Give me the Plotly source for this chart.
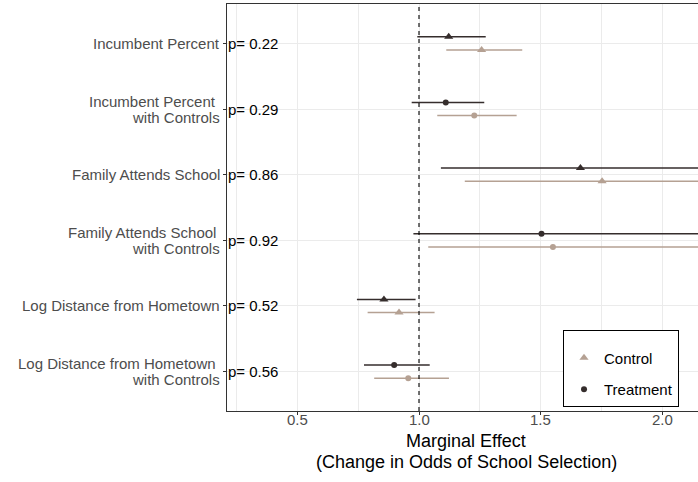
import plotly.graph_objects as go

# Models, listed top to bottom
models = [
    ["Incumbent Percent"],
    ["Incumbent Percent", "with Controls"],
    ["Family Attends School"],
    ["Family Attends School", "with Controls"],
    ["Log Distance from Hometown"],
    ["Log Distance from Hometown", "with Controls"],
]
has_controls = [False, True, False, True, False, True]
p_values = ["p= 0.22", "p= 0.29", "p= 0.86", "p= 0.92", "p= 0.52", "p= 0.56"]

# Odds-ratio estimates and 95% intervals
treat_est = [1.122, 1.110, 1.663, 1.503, 0.856, 0.898]
treat_lo = [0.993, 0.970, 1.090, 0.977, 0.745, 0.774]
treat_hi = [1.274, 1.268, 2.540, 2.310, 0.986, 1.044]

ctrl_est = [1.257, 1.227, 1.752, 1.550, 0.918, 0.956]
ctrl_lo = [1.112, 1.075, 1.188, 1.038, 0.789, 0.816]
ctrl_hi = [1.424, 1.401, 2.580, 2.310, 1.064, 1.123]

x_ticks = [0.5, 1.0, 1.5, 2.0]
x_tick_text = ["0.5", "1.0", "1.5", "2.0"]

TREAT_COLOR = "#352d2c"
CTRL_COLOR = "#b5a193"
TEXT_GREY = "#4d4d4d"
GRID = "#ebebeb"
FONT = "Liberation Sans, Arial, sans-serif"

n = len(models)
row_pos = [n - i for i in range(n)]  # top row gets the largest value
DODGE = 0.1

fig = go.Figure()


def add_group(est, lo, hi, offset, color, name, legend_symbol):
    for ctrl_flag, symbol, size in [(False, "triangle-up", 8), (True, "circle", 6)]:
        idx = [i for i in range(n) if has_controls[i] == ctrl_flag]
        fig.add_trace(go.Scatter(
            x=[est[i] for i in idx],
            y=[row_pos[i] + offset for i in idx],
            mode="markers",
            marker=dict(symbol=symbol, size=size, color=color, line=dict(width=0)),
            error_x=dict(
                type="data", symmetric=False,
                array=[hi[i] - est[i] for i in idx],
                arrayminus=[est[i] - lo[i] for i in idx],
                color=color, thickness=1.5, width=0,
            ),
            name=name,
            showlegend=(symbol == legend_symbol),
            legendgroup=name,
            cliponaxis=True,
        ))


add_group(ctrl_est, ctrl_lo, ctrl_hi, -DODGE, CTRL_COLOR, "Control", "triangle-up")
add_group(treat_est, treat_lo, treat_hi, DODGE, TREAT_COLOR, "Treatment", "circle")

# Reference line at no effect
fig.add_shape(type="line", xref="x", yref="paper", x0=1, x1=1, y0=0, y1=1,
              line=dict(color="black", width=1.1, dash="4px,4px"), layer="above")

annotations = []
# Category labels on the left of the axis
for i, lines in enumerate(models):
    if len(lines) == 1:
        annotations.append(dict(
            xref="paper", yref="y", x=0, y=row_pos[i], text=lines[0],
            xanchor="right", yanchor="middle", xshift=-5, showarrow=False,
            font=dict(size=15, color=TEXT_GREY, family=FONT)))
    else:
        annotations.append(dict(
            xref="paper", yref="y", x=0, y=row_pos[i], text=lines[0],
            xanchor="right", yanchor="middle", xshift=-9, yshift=8,
            showarrow=False, font=dict(size=15, color=TEXT_GREY, family=FONT)))
        annotations.append(dict(
            xref="paper", yref="y", x=0, y=row_pos[i], text=lines[1],
            xanchor="right", yanchor="middle", xshift=-5, yshift=-8,
            showarrow=False, font=dict(size=15, color=TEXT_GREY, family=FONT)))
    # p-value just inside the panel
    annotations.append(dict(
        xref="paper", yref="y", x=0, y=row_pos[i], text=p_values[i],
        xanchor="left", yanchor="middle", xshift=-1, showarrow=False,
        font=dict(size=15, color="black", family=FONT)))

# x tick labels, set close under the axis line
for v, t in zip(x_ticks, x_tick_text):
    annotations.append(dict(
        xref="x", yref="paper", x=v, y=0, yshift=-8, text=t,
        xanchor="center", yanchor="middle", showarrow=False,
        font=dict(size=15, color=TEXT_GREY, family=FONT)))

# Two-line axis title
annotations.append(dict(
    xref="paper", yref="paper", x=0.508, y=0, yshift=-30, text="Marginal Effect",
    xanchor="center", yanchor="middle", showarrow=False, borderpad=0,
    font=dict(size=18, color="black", family=FONT)))
annotations.append(dict(
    xref="paper", yref="paper", x=0.508, y=0, yshift=-51,
    text="(Change in Odds of School Selection)",
    xanchor="center", yanchor="middle", showarrow=False, borderpad=0,
    font=dict(size=18, color="black", family=FONT)))

fig.update_layout(
    width=698, height=482,
    margin=dict(l=227, r=0, t=4, b=71),
    paper_bgcolor="white", plot_bgcolor="white",
    font=dict(family=FONT),
    annotations=annotations,
    xaxis=dict(
        range=[0.2115, 2.1458],
        tickvals=x_ticks, showticklabels=False,
        ticks="outside", ticklen=3, tickcolor="#333333", tickwidth=1,
        showgrid=True, gridcolor=GRID, gridwidth=1.1,
        minor=dict(tickvals=[0.25, 0.75, 1.25, 1.75], showgrid=True,
                   gridcolor=GRID, gridwidth=0.55, ticklen=0),
        showline=True, linecolor="#333333", linewidth=1, mirror=True,
        zeroline=False,
    ),
    yaxis=dict(
        range=[0.4, 6.6],
        tickvals=row_pos, showticklabels=False,
        ticks="outside", ticklen=3, tickcolor="#333333", tickwidth=1,
        showgrid=True, gridcolor=GRID, gridwidth=1.1,
        showline=True, linecolor="#333333", linewidth=1, mirror=False,
        zeroline=False,
    ),
    legend=dict(
        x=0.7134, y=0.0098, xanchor="left", yanchor="bottom",
        bgcolor="white", bordercolor="black", borderwidth=1,
        font=dict(size=15, color="black", family=FONT),
        title=dict(text=" ", font=dict(size=8)),
        tracegroupgap=9, traceorder="grouped",
        itemwidth=30,
    ),
)

fig.write_html("out.html")
